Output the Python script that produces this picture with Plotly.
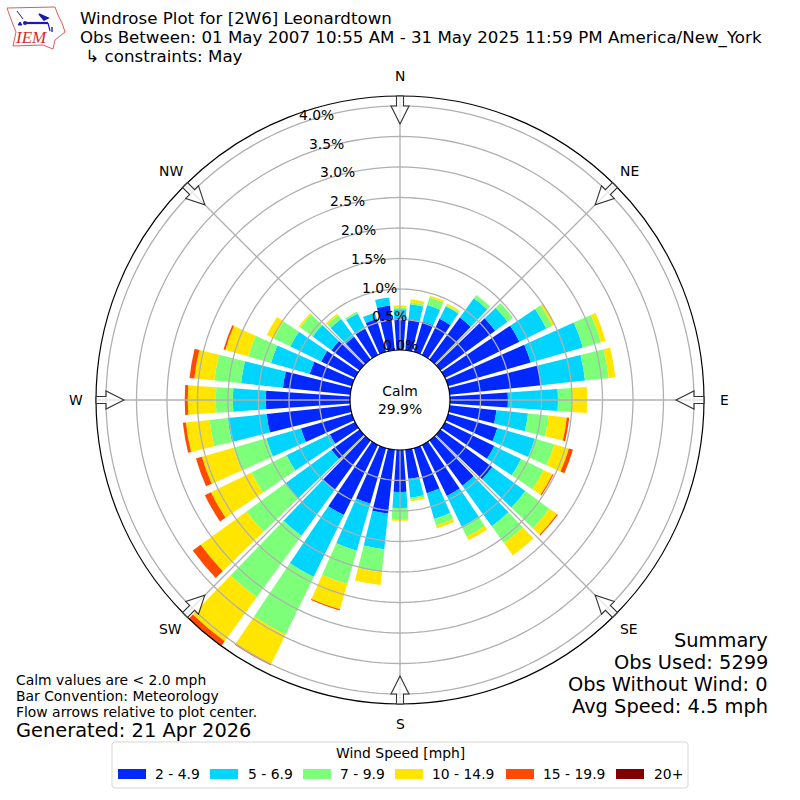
import math
import plotly.graph_objects as go

directions = list(range(0, 360, 10))
speed_labels = ["2 - 4.9", "5 - 6.9", "7 - 9.9", "10 - 14.9", "15 - 19.9", "20+"]
speed_colors = ["#0028ff", "#00d4ff", "#7dff7a", "#ffe500", "#ff4a00", "#800000"]

# percent of obs per direction, one list per speed bin
bin_2_5 = [.52, .51, .52, .66, .85, 1.11, 1.36, 1.41, 1.51, .95, .77, .84, .90, 1.05, .92, .93, .77, .48,
           .69, 1.05, .95, 1.28, 1.00, .57, .46, .87, 1.38, 1.38, 1.11, .72, .62, .57, .46, .48, .56, .74]
bin_5_7 = [.15, .25, .28, .23, .39, .25, .49, .89, .72, .82, .52, .64, .49, .67, .82, .56, .44, .31,
           .26, .59, .80, 1.13, .93, .93, .79, .59, .64, .54, .69, .66, .56, .38, .36, .28, .11, .13]
bin_7_10 = [.03, .03, .13, .02, .07, .11, .11, .31, .39, .23, .34, .33, .41, .49, .34, .18, .11, .03,
            .18, .38, .57, 1.05, 1.25, .79, .64, .56, .30, .28, .44, .39, .30, .25, .08, .03, 0, 0]
bin_10_15 = [.03, .05, .03, .03, 0, 0, .05, .08, .11, .25, .30, .25, .16, .15, .25, .07, .05, .03,
             .03, .21, .43, .54, .89, .93, .74, .54, .39, .46, .33, .39, .13, .03, .03, 0, 0, 0]
bin_15_20 = [0, 0, 0, 0, 0, 0, 0, 0, 0, 0, .04, .07, .02, .02, 0, 0, 0, 0,
             0, 0, .02, .02, .20, .16, .11, .10, .05, .05, .08, .03, 0, 0, 0, 0, 0, 0]
bin_20_up = [0] * 36
speed_bins = [bin_2_5, bin_5_7, bin_7_10, bin_10_15, bin_15_20, bin_20_up]

radial_ticks = [0, .5, 1, 1.5, 2, 2.5, 3, 3.5, 4]
radial_text = ["0.0%", "0.5%", "1.0%", "1.5%", "2.0%", "2.5%", "3.0%", "3.5%", "4.0%"]
compass = ["N", "NE", "E", "SE", "S", "SW", "W", "NW"]
header = ["Windrose Plot for [2W6] Leonardtown",
          "Obs Between: 01 May 2007 10:55 AM - 31 May 2025 11:59 PM America/New_York",
          " ↳ constraints: May"]
summary = ["Summary", "Obs Used: 5299", "Obs Without Wind: 0", "Avg Speed: 4.5 mph"]
notes = ["Calm values are < 2.0 mph", "Bar Convention: Meteorology", "Flow arrows relative to plot center."]

FONT = "DejaVu Sans"
CX, CY, R_OUT, R_HOLE = 400, 400, 304, 50
PX_PER_PCT = 61
R_MAX = (R_OUT - R_HOLE) / PX_PER_PCT
GRID = "#b0b0b0"


def px(x):
    return x / 800


def py(y):
    return 1 - y / 800


def text(x, y, s, size, anchor="left", family=FONT, color="black"):
    return dict(x=px(x), y=py(y), xref="paper", yref="paper", text=s, showarrow=False,
                xanchor=anchor, yanchor="middle", align=anchor, borderpad=0, borderwidth=0,
                font=dict(family=family, size=size, color=color))


def path(points, close=True):
    d = "M" + " L".join(f"{px(x):.5f},{py(y):.5f}" for x, y in points)
    return d + (" Z" if close else "")


def shape_path(points, line, width=1.0, fill=None, close=True):
    s = dict(type="path", xref="paper", yref="paper", path=path(points, close),
             line=dict(color=line, width=width), layer="above")
    if fill:
        s["fillcolor"] = fill
    return s


fig = go.Figure()
for label, color, values in zip(speed_labels, speed_colors, speed_bins):
    fig.add_trace(go.Barpolar(r=values, theta=directions, width=8, name=label,
                              marker=dict(color=color, line=dict(width=0))))

# polar grid goes on top of the bars, so draw it as line traces
ring_theta = list(range(0, 361, 2))
for val in radial_ticks[1:]:
    fig.add_trace(go.Scatterpolar(r=[val] * len(ring_theta), theta=ring_theta, mode="lines", hoverinfo="skip",
                                  line=dict(color=GRID, width=1.3)))
for i in range(8):
    fig.add_trace(go.Scatterpolar(r=[0, R_MAX], theta=[i * 45, i * 45], mode="lines", hoverinfo="skip",
                                  line=dict(color=GRID, width=1.3)))

annotations = []
shapes = []

# flow arrows and compass labels
arrow = [(304, -3.5), (304, 3.5), (294, 3.5), (294, 9), (276, 0), (294, -9), (294, -3.5)]
for i, name in enumerate(compass):
    a = math.radians(i * 45)
    pts = [(CX + r * math.sin(a) + w * math.cos(a), CY - r * math.cos(a) + w * math.sin(a)) for r, w in arrow]
    shapes.append(shape_path(pts, "#333333", 1.1, "rgba(255,255,255,0.7)"))
    annotations.append(text(CX + 324 * math.sin(a), CY - 324 * math.cos(a), name, 13.9, "center"))

# radial labels sit along a slanted line left of north
for val, s in zip(radial_ticks, radial_text):
    annotations.append(text(CX - 21 * val, 345 - 57.5 * val, s, 13.9, "center"))

annotations.append(text(CX, CY, "Calm<br>29.9%", 13.9, "center"))

for s, y in zip(header, [18.5, 38, 56]):
    annotations.append(text(80, y, s, 16.67))
for s, y in zip(summary, [640, 662, 684, 706]):
    annotations.append(text(768, y, s, 19.4, "right"))
for s, y in zip(notes, [680, 696, 712]):
    annotations.append(text(16, y, s, 13.9))
annotations.append(text(16, 730, "Generated: 21 Apr 2026", 19.4))

# legend box, drawn by hand for the wide swatches
shapes.append(shape_path([(114, 742), (686, 742), (688, 744), (688, 786), (686, 788), (114, 788), (112, 786), (112, 744)],
                         "#d5d5d5", 1, "white"))
annotations.append(text(400, 753, "Wind Speed [mph]", 13.9, "center"))
swatch_x = [118, 210, 303, 395, 506, 616]
label_x = [155, 248, 340, 432, 543, 654]
for x0, x1, label, color in zip(swatch_x, label_x, speed_labels, speed_colors):
    shapes.append(dict(type="rect", xref="paper", yref="paper", x0=px(x0), x1=px(x0 + 28), y0=py(779), y1=py(769),
                       fillcolor=color, line=dict(width=0), layer="above"))
    annotations.append(text(x1, 774, label, 13.9))

# IEM logo
iowa = [(7, 8), (55, 7), (58, 15), (62, 23), (65, 32), (60, 36), (55, 40), (53, 49), (43, 45), (13, 46), (16, 32), (12, 22)]
shapes.append(shape_path(iowa, "#e05a5a", 1, "white"))
shapes.append(shape_path([(25, 23), (48, 23)], "#1a1ab0", 2.2, close=False))
shapes.append(shape_path([(17, 11), (23, 19)], "#1a1ab0", 1, close=False))
shapes.append(shape_path([(39, 14), (48, 18), (44, 20)], "#1a1ab0", 1.6, fill="#1a1ab0"))
shapes.append(shape_path([(48, 23), (50, 31)], "#1a1ab0", 1.2, close=False))
shapes.append(shape_path([(52, 27), (52, 32)], "#1a1ab0", 1.4, close=False))
shapes.append(shape_path([(18, 25), (20, 22), (22, 25)], "#1a1ab0", 1, fill="#1a1ab0"))
shapes.append(dict(type="circle", xref="paper", yref="paper", x0=px(23), x1=px(27), y0=py(25), y1=py(21),
                   fillcolor="#1a1ab0", line=dict(width=0), layer="above"))
annotations.append(text(30.5, 38, "<i>IEM</i>", 17, "center", "Liberation Serif", "#d62c2c"))

fig.update_layout(
    width=800, height=800, margin=dict(l=0, r=0, t=0, b=0), paper_bgcolor="white", showlegend=False,
    annotations=annotations, shapes=shapes,
    polar=dict(
        domain=dict(x=[px(CX - R_OUT), px(CX + R_OUT)], y=[py(CY + R_OUT), py(CY - R_OUT)]),
        hole=R_HOLE / R_OUT, barmode="stack", bgcolor="white",
        radialaxis=dict(range=[0, R_MAX], showgrid=False, showticklabels=False, ticks="", showline=False),
        angularaxis=dict(direction="clockwise", rotation=90, showgrid=False, showticklabels=False,
                         ticks="", showline=True, linecolor="black", linewidth=1.2),
    ),
)

fig.write_html("out.html", post_script="document.body.style.margin='0';", config={"displayModeBar": False})
